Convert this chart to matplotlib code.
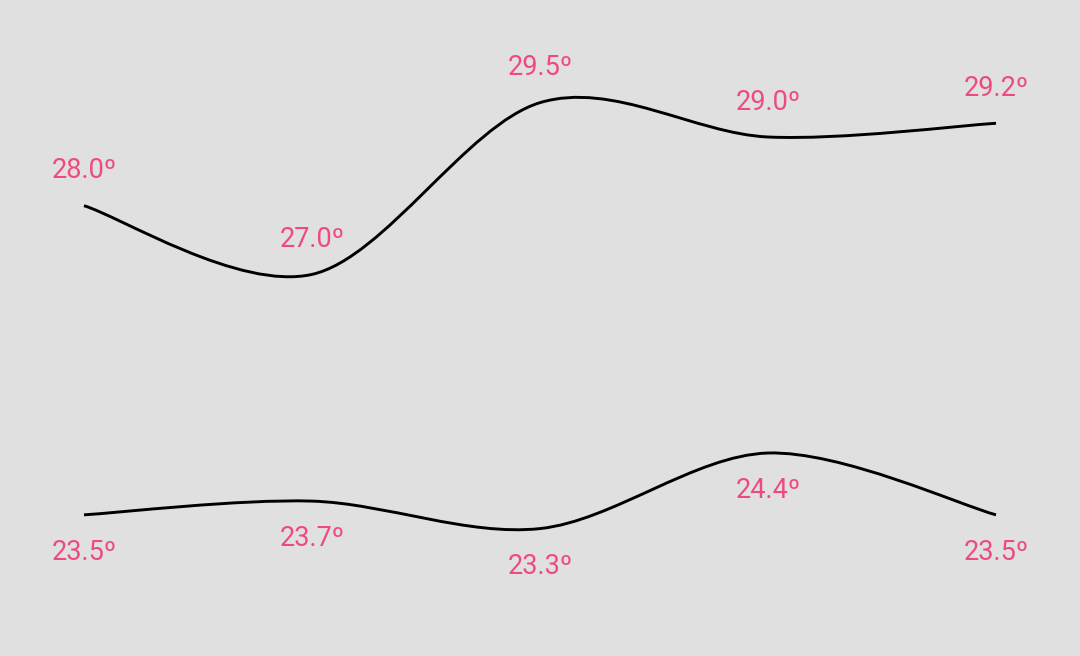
import matplotlib
matplotlib.use("Agg")
import matplotlib.pyplot as plt  # noqa: E402
from matplotlib.path import Path  # noqa: E402
from matplotlib.patches import PathPatch  # noqa: E402

# highs / lows per day
days = [0, 1, 2, 3, 4]
highs = [28.0, 27.0, 29.5, 29.0, 29.2]
lows = [23.5, 23.7, 23.3, 24.4, 23.5]

BG = "#e0e0e0"
PINK = "#ef4a7e"
SMOOTHNESS = 0.16


def smooth_path(xs, ys, k=SMOOTHNESS):
    # catmull-rom style cubic, first/last point reused as neighbour
    n = len(xs)
    verts = [(xs[0], ys[0])]
    codes = [Path.MOVETO]
    for j in range(1, n):
        pp = max(j - 2, 0)
        p = j - 1
        nx = min(j + 1, n - 1)
        verts += [(xs[p] + k * (xs[j] - xs[pp]), ys[p] + k * (ys[j] - ys[pp])),
                  (xs[j] - k * (xs[nx] - xs[p]), ys[j] - k * (ys[nx] - ys[p])),
                  (xs[j], ys[j])]
        codes += [Path.CURVE4] * 3
    return Path(verts, codes)


fig = plt.figure(figsize=(10.8, 6.56), dpi=100, facecolor=BG)
ax = fig.add_axes([0, 0, 1, 1])
ax.set_facecolor(BG)
ax.axis("off")

for vals, off in ((highs, 25), (lows, -27.2)):
    ax.add_patch(PathPatch(smooth_path(days, vals), facecolor="none",
                           edgecolor="black", lw=2.1, capstyle="butt"))
    for x, v in zip(days, vals):
        ax.annotate(f"{v:.1f}º", (x, v), xytext=(0, off),
                    textcoords="offset points", ha="center", va="center",
                    fontsize=19.5, color=PINK, family=["Roboto", "DejaVu Sans"])

# 228 px per day, 68.7 px per degree
ax.set_xlim(-84 / 228, 4 + 84 / 228)
ax.set_ylim(28 - 450.3 / 68.7, 28 + 205.7 / 68.7)

fig.savefig("out.png", dpi=100, facecolor=BG)
